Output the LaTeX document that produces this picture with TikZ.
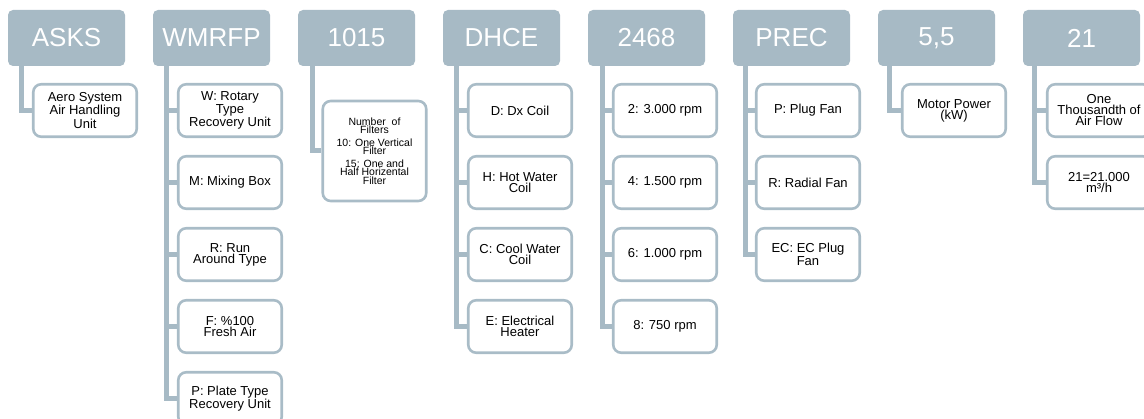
\documentclass[tikz,border=0pt]{standalone}
\usepackage{fontspec}
\setmainfont{Liberation Sans}
\usetikzlibrary{backgrounds}
\definecolor{hdrc}{HTML}{A7BAC5}
\definecolor{brdc}{HTML}{A9BCC7}
\tikzset{
 hdrbox/.style={fill=hdrc, rounded corners=5pt, minimum width=117pt, minimum height=56pt, inner sep=0pt, text=white, font=\fontsize{26}{30}\selectfont},
 kid/.style={draw=brdc, line width=2.6pt, fill=white, rounded corners=8pt, minimum width=103.5pt, minimum height=52.5pt, inner sep=0pt, align=center, font=\fontsize{13}{11}\selectfont},
 conn/.style={draw=hdrc, line width=5pt},
}
\begin{document}
\begin{tikzpicture}[x=1pt,y=-1pt]
\useasboundingbox (0,0) rectangle (1144,419);
% headers
\node[hdrbox] (h1) at (66.5,38) {ASKS};
\node[hdrbox] (h2) at (211.5,38) {WMRFP};
\node[hdrbox] (h3) at (356.5,38) {1015};
\node[hdrbox] (h4) at (501.5,38) {DHCE};
\node[hdrbox] (h5) at (646.5,38) {2468};
\node[hdrbox] (h6) at (791.5,38) {PREC};
\node[hdrbox] (h7) at (936.5,38) {5,5};
\node[hdrbox] (h8) at (1081.5,38) {21};
% children
\node[kid] (a1) at (85,110.5) {Aero System\\Air Handling\\Unit};
\node[kid] (b1) at (230,110.5) {W: Rotary\\Type\\Recovery Unit};
\node[kid] (b2) at (230,182.5) {M: Mixing Box};
\node[kid] (b3) at (230,254.5) {R: Run\\Around Type};
\node[kid] (b4) at (230,326.5) {F: \%100\\Fresh Air};
\node[kid] (b5) at (230,398.5) {P: Plate Type\\Recovery Unit};
\node[kid, minimum height=100pt, font=\fontsize{10.5}{8.5}\selectfont] (c1) at (374.5,151) {Number \ of\\Filters\\[4pt]10: One Vertical\\Filter\\[4pt]15: One and\\Half Horizental\\Filter};
\node[kid] (d1) at (520,110.5) {D: Dx Coil};
\node[kid] (d2) at (520,182.5) {H: Hot Water\\Coil};
\node[kid] (d3) at (520,254.5) {C: Cool Water\\Coil};
\node[kid] (d4) at (520,326.5) {E: Electrical\\Heater};
\node[kid] (e1) at (665,110.5) {2: 3.000 rpm};
\node[kid] (e2) at (665,182.5) {4: 1.500 rpm};
\node[kid] (e3) at (665,254.5) {6: 1.000 rpm};
\node[kid] (e4) at (665,326.5) {8: 750 rpm};
\node[kid] (f1) at (808,110.5) {P: Plug Fan};
\node[kid] (f2) at (808,182.5) {R: Radial Fan};
\node[kid] (f3) at (808,254.5) {EC: EC Plug\\Fan};
\node[kid] (g1) at (954,110.5) {Motor Power\\(kW)};
\node[kid] (k1) at (1099,110.5) {One\\Thousandth of\\Air Flow};
\node[kid] (k2) at (1099,182.5) {21=21.000\\m³/h};
% connectors
\begin{scope}[on background layer]
\draw[conn] ([xshift=14pt]h1.west) |- (a1.west);
\foreach \c in {b1,b2,b3,b4,b5} \draw[conn] ([xshift=13.5pt]h2.west) |- (\c.west);
\draw[conn] ([xshift=15pt]h3.west) |- (c1.west);
\foreach \c in {d1,d2,d3,d4} \draw[conn] ([xshift=13.5pt]h4.west) |- (\c.west);
\foreach \c in {e1,e2,e3,e4} \draw[conn] ([xshift=15pt]h5.west) |- (\c.west);
\foreach \c in {f1,f2,f3} \draw[conn] ([xshift=13pt]h6.west) |- (\c.west);
\draw[conn] ([xshift=12pt]h7.west) |- (g1.west);
\foreach \c in {k1,k2} \draw[conn] ([xshift=12pt]h8.west) |- (\c.west);
\end{scope}
\end{tikzpicture}
\end{document}
